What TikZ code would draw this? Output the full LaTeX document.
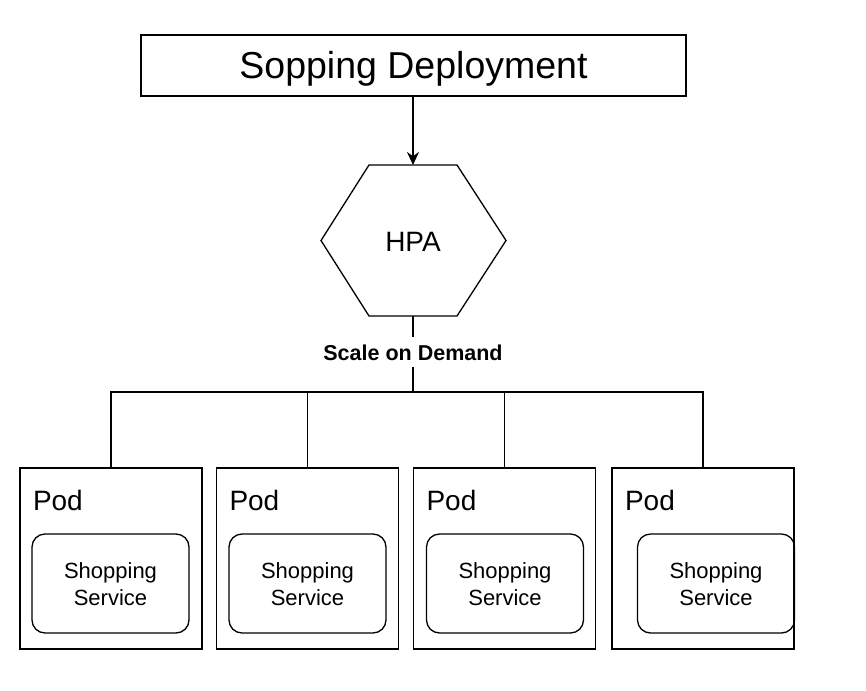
\documentclass[tikz,border=0pt]{standalone}
\usepackage{fontspec}
\setmainfont{Liberation Sans}
\usetikzlibrary{arrows.meta}
\begin{document}
\begin{tikzpicture}[x=1pt,y=-1pt,
  line width=1.3pt,
  topbox/.style={draw, rectangle, inner sep=0pt, minimum width=545pt, minimum height=61pt},
  pod/.style={draw, rectangle, inner sep=0pt, minimum width=182pt, minimum height=181pt},
  podlbl/.style={anchor=base west, inner sep=0pt, font=\fontsize{28}{32}\selectfont},
  svc/.style={draw, rounded corners=13pt, inner sep=0pt, minimum width=157pt, minimum height=99pt},
  svctxt/.style={align=center, inner sep=0pt, font=\fontsize{22}{26.5}\selectfont},
  lbl/.style={fill=white, inner xsep=2pt, inner ysep=6.5pt, font=\fontsize{21.5}{24}\selectfont\bfseries},
  arr/.style={-{Stealth[length=13pt,width=12pt]}}
]
\useasboundingbox (0,0) rectangle (866,690);

% top box
\node[topbox] (dep) at (413.5,65.5) {};
\node[anchor=base, inner sep=0pt, font=\fontsize{37.5}{40}\selectfont] (deptxt) at (413.5,79) {Sopping Deployment};

% hexagon
\draw (321,240.5) -- (369,165) -- (457,165) -- (506,240.5) -- (457,316) -- (369,316) -- cycle;
\coordinate (hexT) at (413,165);
\coordinate (hexB) at (413,316);
\node[anchor=base, inner sep=0pt, font=\fontsize{28}{32}\selectfont] (hpa) at (413,251.5) {HPA};

\draw[arr] (dep.south -| hexT) -- (hexT);

% label and bus
\coordinate (bus) at (413,392);
\node[lbl, anchor=base] (scale) at (413,360) {Scale on Demand};
\draw (hexB) -- (scale.north);
\draw (scale.south) -- (bus);

% pods
\foreach \i/\x/\sx in {1/111/110.5, 2/307.5/307.5, 3/504.5/505, 4/703/716} {
  \node[pod] (pod\i) at (\x,558.5) {};
  \node[podlbl] (podl\i) at ([shift={(13,43)}]pod\i.north west) {Pod};
  \node[svc] (svc\i) at (\sx,583.5) {};
  \node[svctxt] (svct\i) at (\sx,584) {Shopping\\Service};
}
\draw (pod1.north) -- (pod1.north |- bus) -- (pod4.north |- bus) -- (pod4.north);
\draw (pod2.north) -- (pod2.north |- bus);
\draw (pod3.north) -- (pod3.north |- bus);
\end{tikzpicture}
\end{document}
